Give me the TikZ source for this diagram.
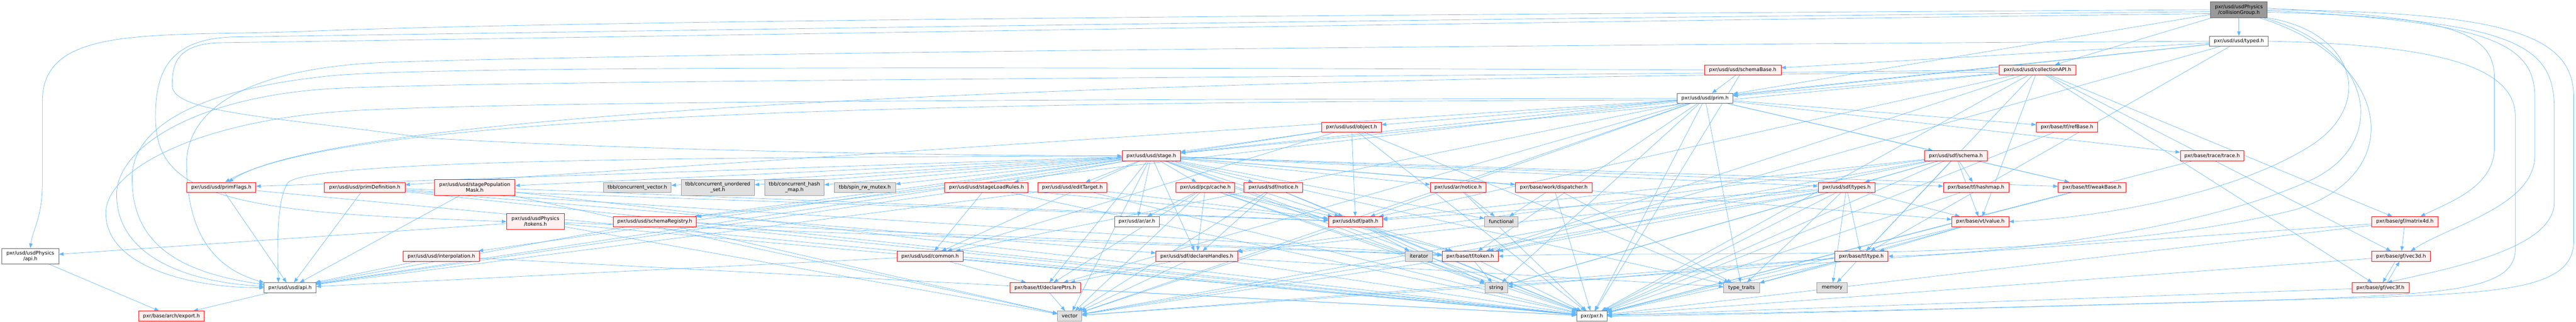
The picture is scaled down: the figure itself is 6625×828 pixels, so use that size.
\documentclass[tikz,border=0pt]{standalone}
\usepackage{fontspec}
\setmainfont{DejaVu Sans}
\usetikzlibrary{arrows.meta}
\pgfdeclarelayer{bg}
\pgfsetlayers{bg,main}
\definecolor{edgec}{HTML}{63B8FF}
\definecolor{redfill}{HTML}{FFF0F0}
\definecolor{grayfill}{HTML}{E0E0E0}
\definecolor{graybd}{HTML}{999999}
\definecolor{normbd}{HTML}{666666}
\definecolor{rootfill}{HTML}{999999}
\tikzset{
  nd/.style={draw, line width=1pt, inner sep=0pt, minimum height=26pt, font=\fontsize{12.8}{14.5}\selectfont, align=center},
  rednode/.style={nd, draw=red, fill=redfill},
  extnode/.style={nd, draw=graybd, fill=grayfill},
  normnode/.style={nd, draw=normbd, fill=white},
  rootnode/.style={nd, draw=normbd, fill=rootfill},
  two/.style={minimum height=41pt},
  edge/.style={draw=edgec, line width=0.9pt, -{Triangle[length=12pt,width=9pt]}}
}
\begin{document}
\begin{tikzpicture}[x=1pt,y=-1pt]
\useasboundingbox (0,0) rectangle (6625,828);
% nodes
\node[rootnode,two,minimum width=146pt] (root) at (5758,25) {pxr/usd/usdPhysics\\/collisionGroup.h};
\node[normnode,minimum width=151pt] (typed) at (5758,106) {pxr/usd/usd/typed.h};
\node[rednode,minimum width=197pt] (sbase) at (4482,180) {pxr/usd/usd/schemaBase.h};
\node[rednode,minimum width=198pt] (capi) at (5240,180) {pxr/usd/usd/collectionAPI.h};
\node[normnode,minimum width=143pt] (prim) at (4385,253) {pxr/usd/usd/prim.h};
\node[rednode,minimum width=153pt] (object) at (3476,327) {pxr/usd/usd/object.h};
\node[rednode,minimum width=158pt] (refbase) at (5316,327) {pxr/base/tf/refBase.h};
\node[rednode,minimum width=150pt] (stage) at (2961,401) {pxr/usd/usd/stage.h};
\node[rednode,minimum width=161pt] (schema) at (5030,401) {pxr/usd/sdf/schema.h};
\node[rednode,minimum width=163pt] (trace) at (5689,401) {pxr/base/trace/trace.h};
\node[rednode,minimum width=178pt] (pflags) at (569,482) {pxr/usd/usd/primFlags.h};
\node[rednode,minimum width=207pt] (pdef) at (938,482) {pxr/usd/usd/primDefinition.h};
\node[rednode,two,minimum width=207pt] (spm) at (1221,482) {pxr/usd/usd/stagePopulation\\Mask.h};
\node[extnode,minimum width=174pt] (tvec) at (1639,482) {tbb/concurrent\_vector.h};
\node[extnode,two,minimum width=188pt] (tuset) at (1846,482) {tbb/concurrent\_unordered\\\_set.h};
\node[extnode,two,minimum width=153pt] (thash) at (2043,482) {tbb/concurrent\_hash\\\_map.h};
\node[extnode,minimum width=158pt] (tspin) at (2224,482) {tbb/spin\_rw\_mutex.h};
\node[rednode,minimum width=215pt] (slr) at (2537,482) {pxr/usd/usd/stageLoadRules.h};
\node[rednode,minimum width=178pt] (etgt) at (2758,482) {pxr/usd/usd/editTarget.h};
\node[rednode,minimum width=151pt] (pcache) at (3100,482) {pxr/usd/pcp/cache.h};
\node[rednode,minimum width=151pt] (snotice) at (3275,482) {pxr/usd/sdf/notice.h};
\node[rednode,minimum width=143pt] (anotice) at (3750,482) {pxr/usd/ar/notice.h};
\node[rednode,minimum width=198pt] (wdisp) at (3996,482) {pxr/base/work/dispatcher.h};
\node[rednode,minimum width=146pt] (stypes) at (4749,482) {pxr/usd/sdf/types.h};
\node[rednode,minimum width=168pt] (hashmap) at (5082,482) {pxr/base/tf/hashmap.h};
\node[rednode,minimum width=174pt] (weak) at (5380,482) {pxr/base/tf/weakBase.h};
\node[rednode,two,minimum width=148pt] (ptok) at (1377,570) {pxr/usd/usdPhysics\\/tokens.h};
\node[rednode,minimum width=214pt] (sreg) at (1684,570) {pxr/usd/usd/schemaRegistry.h};
\node[normnode,minimum width=115pt] (ar) at (2924,570) {pxr/usd/ar/ar.h};
\node[rednode,minimum width=139pt] (path) at (3486,570) {pxr/usd/sdf/path.h};
\node[extnode,minimum width=86pt] (functional) at (3861,570) {functional};
\node[rednode,minimum width=147pt] (value) at (5093,570) {pxr/base/vt/value.h};
\node[rednode,minimum width=170pt] (m4d) at (6185,570) {pxr/base/gf/matrix4d.h};
\node[normnode,two,minimum width=146pt] (papi) at (78,659) {pxr/usd/usdPhysics\\/api.h};
\node[rednode,minimum width=196pt] (interp) at (1135,659) {pxr/usd/usd/interpolation.h};
\node[rednode,minimum width=170pt] (common) at (2392,659) {pxr/usd/usd/common.h};
\node[rednode,minimum width=210pt] (dhandles) at (3078,659) {pxr/usd/sdf/declareHandles.h};
\node[extnode,minimum width=70pt] (iterator) at (3649,659) {iterator};
\node[rednode,minimum width=144pt] (token) at (3781,659) {pxr/base/tf/token.h};
\node[rednode,minimum width=137pt] (type) at (4787,659) {pxr/base/tf/type.h};
\node[rednode,minimum width=150pt] (v3d) at (6175,659) {pxr/base/gf/vec3d.h};
\node[normnode,minimum width=133pt] (uapi) at (746,740) {pxr/usd/usd/api.h};
\node[rednode,minimum width=182pt] (dptrs) at (2688,740) {pxr/base/tf/declarePtrs.h};
\node[extnode,minimum width=59pt] (string) at (3848,740) {string};
\node[extnode,minimum width=92pt] (ttraits) at (4479,740) {type\_traits};
\node[extnode,minimum width=78pt] (memory) at (4712,740) {memory};
\node[rednode,minimum width=147pt] (v3f) at (6122,740) {pxr/base/gf/vec3f.h};
\node[rednode,minimum width=169pt] (export) at (441,813) {pxr/base/arch/export.h};
\node[extnode,minimum width=62pt] (vector) at (2751,813) {vector};
\node[normnode,minimum width=78pt] (pxr) at (4094,813) {pxr/pxr.h};
% edges
\begin{pgfonlayer}{bg}
\fill[white] (0,0) rectangle (6625,828);
\foreach \t in {typed,prim,capi} \draw[edge] (root) -- (\t);
\foreach \t in {sbase,prim,stage,token,type} \draw[edge] (typed) -- (\t);
\foreach \t in {pxr,prim} \draw[edge] (sbase) -- (\t);
\foreach \t in {pxr,prim,stage,path,value,v3d,v3f,m4d,token,type} \draw[edge] (capi) -- (\t);
\foreach \t in {pxr,common,object,sreg,pdef,trace,dptrs,refbase,token,weak,path,schema,string,ttraits,vector} \draw[edge] (prim) -- (\t);
\foreach \t in {pxr,uapi,common,stage,path,ttraits} \draw[edge] (object) -- (\t);
\foreach \t in {pxr,common,etgt,interp,sreg,slr,spm,pflags,dptrs,hashmap,weak,ar,anotice,dhandles,snotice,path,stypes,pcache,value,wdisp,tvec,tuset,thash,tspin,functional,string,ttraits,vector} \draw[edge] (stage) -- (\t);
\foreach \t in {pxr,dhandles,path,stypes,hashmap,weak,value,token,type,vector,string} \draw[edge] (schema) -- (\t);
\foreach \s in {trace,refbase,hashmap,weak} \draw[edge] (\s) -- (pxr);
\foreach \t in {uapi,pxr} \draw[edge] (pflags) -- (\t);
\foreach \t in {uapi,pxr,path,token,dhandles} \draw[edge] (pdef) -- (\t);
\foreach \t in {uapi,pxr,path,vector} \draw[edge] (spm) -- (\t);
\foreach \t in {uapi,common,pxr,path} \draw[edge] (slr) -- (\t);
\foreach \t in {uapi,pxr,path} \draw[edge] (etgt) -- (\t);
\foreach \t in {pxr,ar,dhandles,dptrs,path,token,vector,string} \draw[edge] (pcache) -- (\t);
\foreach \t in {pxr,dhandles,path,vector} \draw[edge] (snotice) -- (\t);
\foreach \t in {functional,pxr} \draw[edge] (anotice) -- (\t);
\foreach \t in {functional,pxr,ttraits} \draw[edge] (wdisp) -- (\t);
\foreach \t in {pxr,dhandles,path,token,type,value,string,vector,ttraits,memory} \draw[edge] (stypes) -- (\t);
\foreach \t in {papi,pxr,token,vector} \draw[edge] (ptok) -- (\t);
\foreach \t in {uapi,pxr,vector,token} \draw[edge] (sreg) -- (\t);
\foreach \t in {pxr,iterator,token,string,vector} \draw[edge] (path) -- (\t);
\foreach \t in {pxr,type,ttraits} \draw[edge] (value) -- (\t);
\foreach \t in {pxr,v3d,vector} \draw[edge] (m4d) -- (\t);
\draw[edge] (v3d) -- (pxr);
\draw[edge] (v3f) -- (pxr);
\draw[edge] ([xshift=-15pt]v3d.south) -- ([xshift=6pt]v3f.north);
\draw[edge] ([xshift=17pt]v3f.north) -- ([xshift=-4pt]v3d.south);
\draw[edge] (papi) -- (export);
\draw[edge] (uapi) -- (export);
\foreach \t in {pxr,uapi} \draw[edge] (interp) -- (\t);
\foreach \t in {pxr,uapi,dptrs} \draw[edge] (common) -- (\t);
\foreach \t in {pxr,dptrs,vector,ttraits} \draw[edge] (dhandles) -- (\t);
\foreach \t in {pxr,string,vector} \draw[edge] (token) -- (\t);
\foreach \t in {pxr,memory,ttraits,vector,string} \draw[edge] (type) -- (\t);
\foreach \t in {vector,pxr} \draw[edge] (dptrs) -- (\t);
% long routed edges
\draw[edge] (root.west) .. controls (3500,38) and (1500,52) .. (800,80) .. controls (400,96) and (109,60) .. (109,260) -- (109,470) .. controls (109,560) and (84,590) .. (papi.north);
\draw[edge] ([yshift=-5pt]root.west) .. controls (3500,50) and (1500,82) .. (600,95) .. controls (430,100) and (400,190) .. (400,300) .. controls (400,470) and (520,540) .. (1100,562) -- (ptok.west);
\draw[edge] ([yshift=-10pt]root.west) .. controls (3500,62) and (1500,97) .. (560,110) .. controls (450,115) and (443,170) .. (443,220) .. controls (443,290) and (700,300) .. (1100,355) .. controls (1700,390) and (2500,400) .. (stage.west);
\draw[edge] (root.east) .. controls (6450,30) and (6619,90) .. (6619,250) -- (6619,620) .. controls (6619,740) and (6450,752) .. (6100,765) .. controls (5200,790) and (4500,810) .. (pxr.east);
\draw[edge] ([yshift=4pt]root.east) .. controls (6300,45) and (6415,80) .. (6415,200) -- (6415,380) .. controls (6415,480) and (6300,520) .. ([xshift=40pt]m4d.north);
\draw[edge] ([yshift=-2pt]root.east) .. controls (6400,55) and (6519,110) .. (6519,250) -- (6519,400) .. controls (6519,530) and (6300,580) .. ([xshift=25pt]v3d.north);
\draw[edge] ([yshift=-6pt]root.east) .. controls (6480,50) and (6569,120) .. (6569,280) -- (6569,520) .. controls (6569,640) and (6300,690) .. ([xshift=18pt]v3f.north);
\draw[edge] (typed.east) .. controls (6300,115) and (6469,180) .. (6469,300) -- (6469,640) .. controls (6469,745) and (6300,755) .. (5900,770) .. controls (5000,795) and (4500,808) .. ([yshift=4pt]pxr.east);
\draw[edge] (root.south east) .. controls (6050,80) and (6110,260) .. (5950,370) .. controls (5750,500) and (5400,560) .. (value.east);
\draw[edge] ([xshift=-10pt]root.south east) .. controls (6100,120) and (6150,360) .. (5950,460) .. controls (5650,600) and (5100,655) .. (type.east);
\draw[edge] ([xshift=-20pt]root.south east) .. controls (6150,150) and (6200,450) .. (5900,540) .. controls (5300,690) and (4300,640) .. (token.east);
\draw[edge] (typed.west) .. controls (3500,118) and (1600,140) .. (1000,160) .. controls (600,175) and (480,300) .. (480,420) .. controls (480,600) and (550,690) .. (uapi.north west);
\draw[edge] (sbase.west) .. controls (2500,172) and (1100,170) .. (850,195) .. controls (500,230) and (345,330) .. (340,450) .. controls (335,620) and (450,700) .. ([yshift=-5pt]uapi.north west);
\draw[edge] (capi.west) .. controls (3500,200) and (1300,205) .. (850,228) .. controls (500,250) and (300,380) .. (300,500) .. controls (300,660) and (480,725) .. ([yshift=-10pt]uapi.north west);
\draw[edge] (prim.west) .. controls (2500,256) and (1300,262) .. (900,285) .. controls (500,310) and (270,440) .. (272,550) .. controls (275,690) and (500,740) .. (uapi.west);
\draw[edge] (stage.west) .. controls (1800,405) and (800,410) .. (740,470) .. controls (715,510) and (712,600) .. ([xshift=-30pt]uapi.north);
\draw[edge] ([yshift=-4pt]prim.west) .. controls (2500,262) and (900,285) .. ([xshift=10pt]pflags.north);
\draw[edge] ([yshift=-6pt]capi.west) .. controls (3500,195) and (900,255) .. ([xshift=19pt]pflags.north);
\end{pgfonlayer}
\end{tikzpicture}
\end{document}
